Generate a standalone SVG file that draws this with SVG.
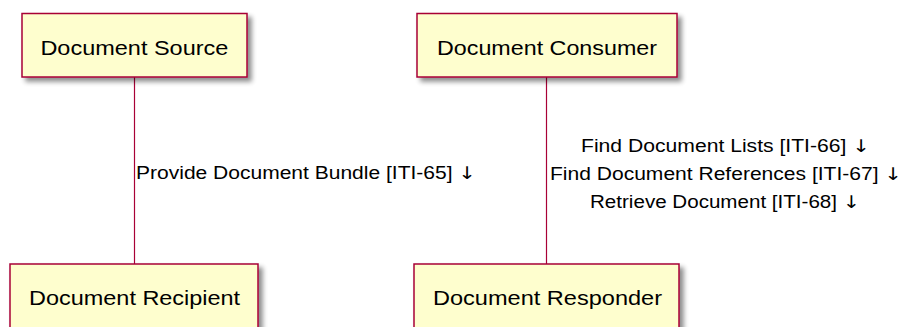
<svg xmlns="http://www.w3.org/2000/svg" width="906" height="327" viewBox="0 0 906 327">
<defs>
<filter id="sh" x="-10%" y="-20%" width="130%" height="160%">
<feGaussianBlur in="SourceAlpha" stdDeviation="2.5"/>
<feOffset dx="4" dy="4" result="b"/>
<feComponentTransfer><feFuncA type="linear" slope="0.45"/></feComponentTransfer>
<feMerge><feMergeNode/><feMergeNode in="SourceGraphic"/></feMerge>
</filter>
</defs>
<style>
.box{fill:#FEFECE;stroke:#A80036;stroke-width:1.5;filter:url(#sh)}
.nt{font-family:"Liberation Sans",Arial,sans-serif;font-size:21px;fill:#000;text-anchor:middle}
.lbl{font-family:"Liberation Sans",Arial,sans-serif;font-size:17.5px;fill:#000}
.ar{font-family:"DejaVu Sans",sans-serif;fill:#000}
.ln{stroke:#A80036;stroke-width:1.2;fill:none}
</style>
<rect width="906" height="327" fill="#fff"/>
<g id="connectors">
<line class="ln" x1="134.5" y1="77" x2="134.5" y2="264"/>
<line class="ln" x1="546.5" y1="77" x2="546.5" y2="264"/>
<text class="lbl" x="136" y="179" textLength="340" lengthAdjust="spacingAndGlyphs">Provide Document Bundle [ITI-65] <tspan class="ar">↓</tspan></text>
<text class="lbl" x="725.5" y="152" text-anchor="middle" textLength="289" lengthAdjust="spacingAndGlyphs">Find Document Lists [ITI-66] <tspan class="ar">↓</tspan></text>
<text class="lbl" x="726" y="180" text-anchor="middle" textLength="352" lengthAdjust="spacingAndGlyphs">Find Document References [ITI-67] <tspan class="ar">↓</tspan></text>
<text class="lbl" x="725" y="208" text-anchor="middle" textLength="270" lengthAdjust="spacingAndGlyphs">Retrieve Document [ITI-68] <tspan class="ar">↓</tspan></text>
</g>
<g id="source">
<rect class="box" x="22" y="13.5" width="225" height="63.5"/>
<text class="nt" x="134.4" y="55" textLength="188" lengthAdjust="spacingAndGlyphs">Document Source</text>
</g>
<g id="consumer">
<rect class="box" x="417" y="13.5" width="260" height="63.5"/>
<text class="nt" x="547" y="55" textLength="220" lengthAdjust="spacingAndGlyphs">Document Consumer</text>
</g>
<g id="recipient">
<rect class="box" x="10" y="264" width="248" height="80"/>
<text class="nt" x="134.6" y="305" textLength="211" lengthAdjust="spacingAndGlyphs">Document Recipient</text>
</g>
<g id="responder">
<rect class="box" x="414" y="264" width="265" height="80"/>
<text class="nt" x="547.5" y="305" textLength="229" lengthAdjust="spacingAndGlyphs">Document Responder</text>
</g>
</svg>
